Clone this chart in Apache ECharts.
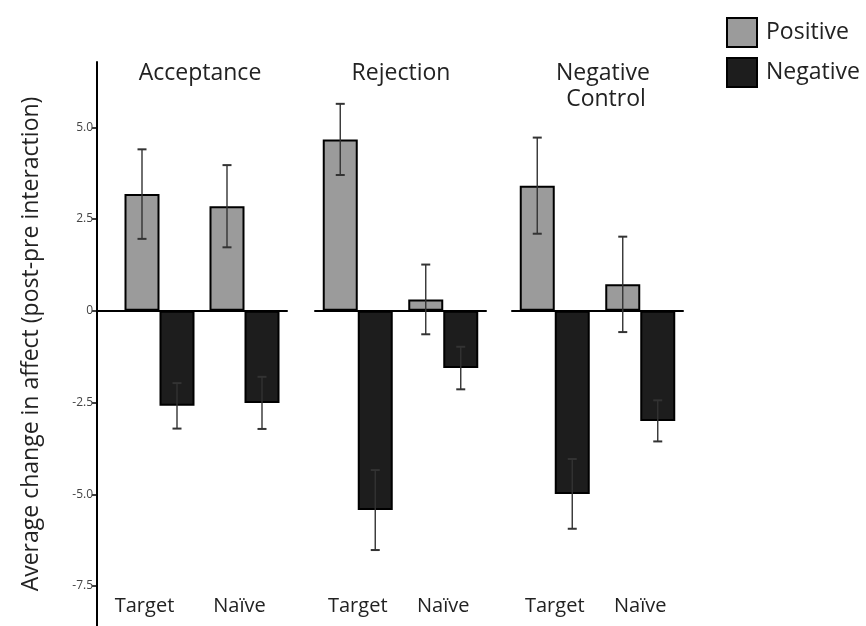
<!DOCTYPE html>
<html>
<head>
<meta charset="utf-8">
<title>Average change in affect</title>
<script src="https://cdn.jsdelivr.net/npm/echarts@6/dist/echarts.min.js"></script>
<style>
  html, body { margin: 0; padding: 0; background: #ffffff; }
  #chart { width: 866px; height: 626px; }
</style>
</head>
<body>
<div id="chart"></div>
<script>
// Conditions (panels) and the two partner types inside each panel
const conditions = ['Acceptance', 'Rejection', 'Negative\n Control'];
const partners = ['Target', 'Naïve'];

// Means and error-bar half-widths, ordered panel by panel: [Target, Naïve]
const positiveMean = [3.18, 2.85, 4.67, 0.31, 3.41, 0.72];
const positiveErr  = [1.22, 1.12, 0.97, 0.95, 1.31, 1.30];
const negativeMean = [-2.59, -2.51, -5.43, -1.56, -4.99, -3.00];
const negativeErr  = [0.62, 0.71, 1.09, 0.58, 0.95, 0.56];

// Y axis tick values
const yTicks = [-7.5, -5, -2.5, 0, 2.5, 5];
const yAxisTitle = 'Average change in affect (post-pre interaction)';

// ---- layout ----
const FONT = '"Open Sans", "Noto Sans", sans-serif';
const TOP = 62;                 // top of the axis area
const AXIS_BOTTOM = 626;        // y axis runs to the bottom edge
const BAR_BOTTOM = 590;
const Y_MAX = 6.78;
const Y_MIN = -8.59;
const Y_MIN_BAR = Y_MAX - (BAR_BOTTOM - TOP) / (AXIS_BOTTOM - TOP) * (Y_MAX - Y_MIN);
const BAR_W = 35;

// panels that carry the zero line and the partner labels (the first also has the y axis)
const linePanels = [
  { left: 97, right: 287 },
  { left: 315, right: 486 },
  { left: 512, right: 683 }
];
// panels that hold the bars
const barPanels = [
  { left: 117, right: 287 },
  { left: 315, right: 486 },
  { left: 512, right: 683 }
];
const titleCenters = [200, 401, 603];

const W = 866, H = 626;
const grids = [], xAxes = [], yAxes = [], series = [];

linePanels.forEach((p, i) => {
  grids.push({ left: p.left, width: p.right - p.left, top: TOP, height: AXIS_BOTTOM - TOP, containLabel: false });
  xAxes.push({
    gridIndex: i, type: 'category', data: partners,
    axisLine: { show: true, onZero: true, lineStyle: { color: '#000', width: 2 } },
    axisTick: { show: false }, axisLabel: { show: false }, splitLine: { show: false }
  });
  yAxes.push({
    gridIndex: i, type: 'value', min: Y_MIN, max: Y_MAX, show: i === 0,
    name: i === 0 ? yAxisTitle : '',
    nameLocation: 'middle', nameGap: 54, nameRotate: 90,
    nameTextStyle: { fontFamily: FONT, fontSize: 23, color: '#222' },
    axisLine: { show: true, onZero: false, lineStyle: { color: '#000', width: 2 } },
    axisTick: { show: true, length: 5, customValues: yTicks, lineStyle: { color: '#000', width: 1.5 } },
    axisLabel: {
      show: true, customValues: yTicks, margin: 4,
      fontFamily: FONT, fontSize: 12, color: '#444',
      formatter: v => (v === 0 ? '0' : v.toFixed(1))
    },
    splitLine: { show: false }
  });
});

barPanels.forEach((p, i) => {
  const gi = i + 3;
  grids.push({ left: p.left, width: p.right - p.left, top: TOP, height: BAR_BOTTOM - TOP, containLabel: false });
  xAxes.push({
    gridIndex: gi, type: 'category', data: partners, show: false,
    axisLine: { show: false, onZero: false }
  });
  yAxes.push({ gridIndex: gi, type: 'value', min: Y_MIN_BAR, max: Y_MAX, show: false, splitLine: { show: false } });
});

// partner labels along the bottom of each panel
linePanels.forEach((p, i) => {
  xAxes.push({
    gridIndex: i, type: 'category', data: partners, position: 'bottom',
    axisLine: { show: false, onZero: false }, axisTick: { show: false },
    axisLabel: { show: true, margin: -30, fontFamily: FONT, fontSize: 20, color: '#222' },
    splitLine: { show: false }
  });
});

// error bar drawn at the centre of the left (-1) or right (+1) bar of a pair
function errorBar(side) {
  return function (params, api) {
    const idx = api.value(0), mean = api.value(1), err = api.value(2);
    const hi = api.coord([idx, mean + err]);
    const lo = api.coord([idx, mean - err]);
    const x = hi[0] + side * BAR_W / 2;
    const cap = 4.5;
    const stem = { stroke: '#333', lineWidth: 1.4 };
    const capStyle = { stroke: '#333', lineWidth: 2 };
    return {
      type: 'group',
      children: [
        { type: 'line', shape: { x1: x, y1: hi[1], x2: x, y2: lo[1] }, style: stem },
        { type: 'line', shape: { x1: x - cap, y1: hi[1], x2: x + cap, y2: hi[1] }, style: capStyle },
        { type: 'line', shape: { x1: x - cap, y1: lo[1], x2: x + cap, y2: lo[1] }, style: capStyle }
      ]
    };
  };
}

const posStyle = { color: '#9b9b9b', borderColor: '#000', borderWidth: 2 };
const negStyle = { color: '#1d1d1d', borderColor: '#000', borderWidth: 2 };

conditions.forEach((c, i) => {
  const gi = i + 3;
  const pos = positiveMean.slice(2 * i, 2 * i + 2);
  const neg = negativeMean.slice(2 * i, 2 * i + 2);
  const posE = positiveErr.slice(2 * i, 2 * i + 2);
  const negE = negativeErr.slice(2 * i, 2 * i + 2);
  series.push({
    name: 'Positive', type: 'bar', xAxisIndex: gi, yAxisIndex: gi,
    data: pos, barWidth: BAR_W, barGap: '0%', itemStyle: posStyle, z: 2
  });
  series.push({
    name: 'Negative', type: 'bar', xAxisIndex: gi, yAxisIndex: gi,
    data: neg, barWidth: BAR_W, barGap: '0%', itemStyle: negStyle, z: 2
  });
  series.push({
    type: 'custom', xAxisIndex: gi, yAxisIndex: gi, z: 5, silent: true,
    renderItem: errorBar(-1), data: pos.map((v, k) => [k, v, posE[k]])
  });
  series.push({
    type: 'custom', xAxisIndex: gi, yAxisIndex: gi, z: 5, silent: true,
    renderItem: errorBar(1), data: neg.map((v, k) => [k, v, negE[k]])
  });
});

const chart = echarts.init(document.getElementById('chart'), null, { renderer: 'canvas', width: W, height: H });
chart.setOption({
  animation: false,
  backgroundColor: '#ffffff',
  title: conditions.map((c, i) => ({
    text: c, left: titleCenters[i], top: 60, textAlign: 'center', padding: 0,
    textStyle: { fontFamily: FONT, fontSize: 23, fontWeight: 'normal', color: '#222', lineHeight: 26 }
  })),
  legend: {
    data: ['Positive', 'Negative'], orient: 'vertical', left: 726, top: 17, padding: 0,
    icon: 'rect', itemWidth: 30, itemHeight: 29, itemGap: 9,
    selectedMode: false,
    textStyle: { fontFamily: FONT, fontSize: 23, color: '#222', padding: [0, 0, 0, 4] }
  },
  grid: grids,
  xAxis: xAxes,
  yAxis: yAxes,
  series: series
});
</script>
</body>
</html>
